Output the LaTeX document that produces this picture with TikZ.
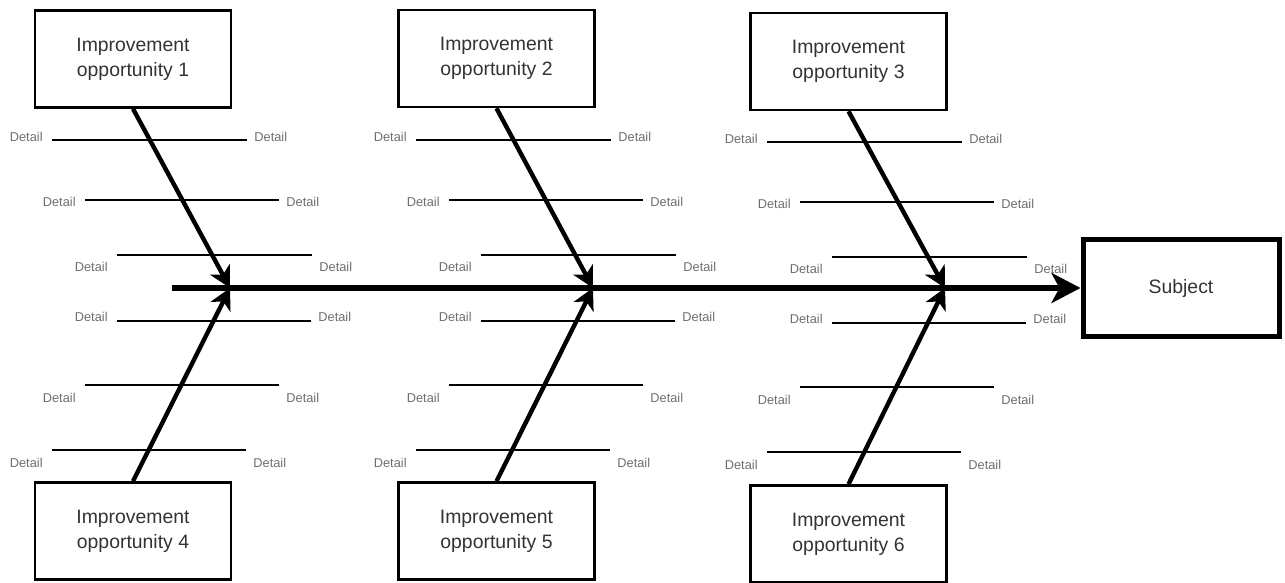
\documentclass[tikz,border=0pt]{standalone}
\usepackage{fontspec}
\setmainfont{Liberation Sans}
\usetikzlibrary{arrows.meta}
\definecolor{textgray}{RGB}{51,51,51}
\definecolor{detailgray}{RGB}{110,110,110}

\begin{document}
\begin{tikzpicture}[x=0.5pt, y=-0.5pt,
    causebox/.style={draw, line width=1.3pt, minimum width=98pt, minimum height=48.5pt,
      align=center, text=textgray, font=\fontsize{9.7}{12.5}\selectfont},
    rib/.style={line width=1.3pt},
    detail/.style={text=detailgray, font=\fontsize{6.4}{7.5}\selectfont, inner sep=0pt},
    bone/.style={line width=2.2pt, -{Stealth[length=10.5pt, width=11pt, inset=3pt]}},
    spine/.style={line width=2.8pt, -{Stealth[length=14.5pt, width=15pt, inset=4pt]}}]
    \useasboundingbox (0,0) rectangle (1285,583);

    % ribs with their labels
    \foreach \g/\dx/\dy in {1/0/0, 2/364/0, 3/715/2} {
      \foreach \r/\xa/\xb/\yr/\yt in {1/52/247/140/137, 2/85/279/200/202, 3/117/312/255/267,
                                      4/117/311/321/317, 5/85/279/385/398, 6/52/246/450/463} {
        \coordinate (r\r-w\g) at (\xa+\dx, \yr+\dy);
        \coordinate (r\r-e\g) at (\xb+\dx, \yr+\dy);
        \draw[rib] (r\r-w\g) -- (r\r-e\g);
        \node[detail, anchor=east] (t\r-w\g) at (\xa+\dx-9, \yt+\dy) {Detail};
        \node[detail, anchor=west] (t\r-e\g) at (\xb+\dx+7, \yt+\dy) {Detail};
      }
    }

    % cause boxes
    \node[causebox] (op1) at (133, 59) {Improvement\\opportunity 1};
    \node[causebox] (op2) at (496.5, 58.5) {Improvement\\opportunity 2};
    \node[causebox] (op3) at (848.5, 61.5) {Improvement\\opportunity 3};
    \node[causebox] (op4) at (133, 531) {Improvement\\opportunity 4};
    \node[causebox] (op5) at (496.5, 531) {Improvement\\opportunity 5};
    \node[causebox] (op6) at (848.5, 534) {Improvement\\opportunity 6};
    \node[causebox, line width=2.5pt] (subject) at (1181, 288) {Subject};

    % spine and bones
    \coordinate (tail) at (172, 288);
    \coordinate (j1) at (230, 288);
    \coordinate (j2) at (593, 288);
    \coordinate (j3) at (945, 288);
    \draw[spine] (tail) -- (subject.west);
    \draw[bone] (op1.south) -- (j1);
    \draw[bone] (op2.south) -- (j2);
    \draw[bone] (op3.south) -- (j3);
    \draw[bone] (op4.north) -- (j1);
    \draw[bone] (op5.north) -- (j2);
    \draw[bone] (op6.north) -- (j3);
\end{tikzpicture}
\end{document}
